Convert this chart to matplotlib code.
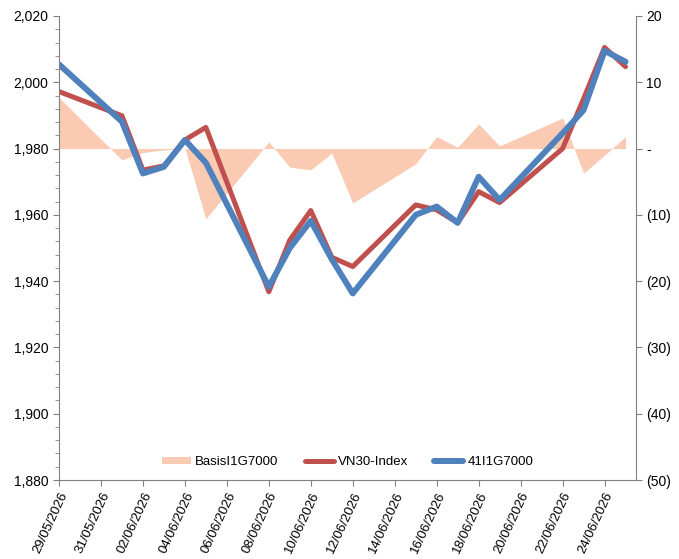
import datetime

import matplotlib
matplotlib.use("Agg")
import matplotlib.pyplot as plt
import matplotlib.dates as mdates
from matplotlib.ticker import FuncFormatter, MultipleLocator

plt.rcParams['font.family'] = ['Liberation Sans', 'DejaVu Sans']

# trading days
date_str = ["29/05/2026", "01/06/2026", "02/06/2026", "03/06/2026", "04/06/2026",
            "05/06/2026", "08/06/2026", "09/06/2026", "10/06/2026", "11/06/2026",
            "12/06/2026", "15/06/2026", "16/06/2026", "17/06/2026", "18/06/2026",
            "19/06/2026", "22/06/2026", "23/06/2026", "24/06/2026", "25/06/2026"]
vn30 = [1997.2, 1989.9, 1973.5, 1974.8, 1982.6, 1986.4, 1936.8, 1952.4, 1961.3, 1947.2,
        1944.4, 1963.0, 1961.5, 1957.6, 1967.0, 1963.7, 1980.0, 1995.0, 2010.5, 2004.7]
f41 = [2005.4, 1988.1, 1972.5, 1974.5, 1982.6, 1975.7, 1938.3, 1950.0, 1958.2, 1946.6,
       1936.3, 1960.0, 1962.5, 1957.6, 1971.5, 1964.5, 1984.6, 1991.6, 2009.5, 2006.2]
basis = [7.7, -1.7, -0.6, -0.2, 0.0, -10.6, 1.0, -2.8, -3.2, -0.7,
         -8.2, -2.3, 1.8, 0.2, 3.7, 0.4, 4.6, -3.7, -1.0, 1.8]

dates = [datetime.datetime.strptime(d, "%d/%m/%Y") for d in date_str]

fig = plt.figure(figsize=(6.79, 5.59), dpi=100)
ax = fig.add_axes([0.0869, 0.1413, 0.8498, 0.8301])
ax2 = ax.twinx()

# basis area on secondary axis, behind the lines
ax2.fill_between(dates, basis, 0, color='#FBCAB3', linewidth=0, label='BasisI1G7000')
ax.set_zorder(ax2.get_zorder() + 1)
ax.patch.set_visible(False)

ax.plot(dates, vn30, color='#C0504D', linewidth=3.6, label='VN30-Index', solid_capstyle='round')
ax.plot(dates, f41, color='#4F81BD', linewidth=4.3, label='41I1G7000', solid_capstyle='round')

ax.set_ylim(1880, 2020)
ax2.set_ylim(-50, 20)
ax.set_xlim(datetime.datetime(2026, 5, 29), datetime.datetime(2026, 6, 25, 12))

ax.yaxis.set_major_locator(MultipleLocator(20))
ax.yaxis.set_minor_locator(MultipleLocator(4))
ax.yaxis.set_major_formatter(FuncFormatter(lambda v, p: f"{v:,.0f}"))
ax2.yaxis.set_major_locator(MultipleLocator(10))


def paren(v, p):
    if abs(v) < 1e-9:
        return "-"
    if v < 0:
        return f"({abs(v):.0f})"
    return f"{v:.0f}"


ax2.yaxis.set_major_formatter(FuncFormatter(paren))

ticks = [datetime.datetime(2026, 5, 29) + datetime.timedelta(days=2 * i) for i in range(14)]
ax.set_xticks(ticks)
ax.xaxis.set_major_formatter(mdates.DateFormatter("%d/%m/%Y"))
for label in ax.get_xticklabels():
    label.set_rotation(65)
    label.set_ha('right')
    label.set_rotation_mode('anchor')

for a in (ax, ax2):
    for s in a.spines.values():
        s.set_color('#808080')
    a.spines['top'].set_visible(False)
    a.tick_params(which='both', colors='#808080', labelcolor='black', labelsize=10)
ax.spines['right'].set_visible(False)
ax2.spines['left'].set_visible(False)
ax2.spines['bottom'].set_visible(False)
ax.tick_params(which='major', length=4)
ax.tick_params(which='minor', length=3)
ax2.tick_params(which='major', length=4)
ax.tick_params(axis='x', labelsize=9.5)

h1, l1 = ax2.get_legend_handles_labels()
h2, l2 = ax.get_legend_handles_labels()
ax.legend(h1 + h2, l1 + l2, loc='center', bbox_to_anchor=(0.5, 0.038), ncol=3,
          frameon=False, fontsize=9.5, handlelength=2.2, handleheight=0.5,
          columnspacing=2.0, handletextpad=0.3)

fig.savefig("out.png", dpi=100)
